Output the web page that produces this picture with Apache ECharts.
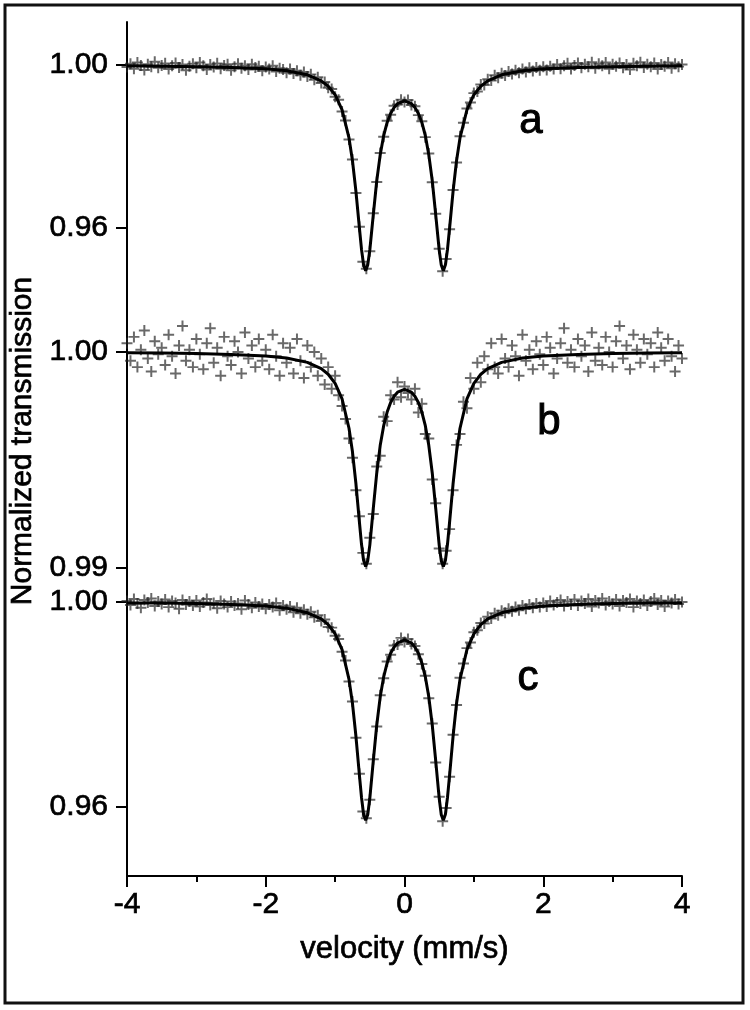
<!DOCTYPE html>
<html>
<head>
<meta charset="utf-8">
<script src="https://cdn.jsdelivr.net/npm/echarts@6/dist/echarts.min.js"></script>
<style>
  html, body { margin: 0; background: #fff; }
  #chart { width: 750px; height: 1010px; }
</style>
</head>
<body>
<div id="chart"></div>
<script>
// measured channels (mm/s)
const velocity = [
  -4, -3.95, -3.9, -3.85, -3.8, -3.75, -3.7, -3.65, -3.6, -3.55,
  -3.5, -3.45, -3.4, -3.35, -3.3, -3.25, -3.2, -3.15, -3.1, -3.05,
  -3, -2.95, -2.9, -2.85, -2.8, -2.75, -2.7, -2.65, -2.6, -2.55,
  -2.5, -2.45, -2.4, -2.35, -2.3, -2.25, -2.2, -2.15, -2.1, -2.05,
  -2, -1.95, -1.9, -1.85, -1.8, -1.75, -1.7, -1.65, -1.6, -1.55,
  -1.5, -1.45, -1.4, -1.35, -1.3, -1.25, -1.2, -1.15, -1.1, -1.05,
  -1, -0.95, -0.9, -0.85, -0.8, -0.75, -0.7, -0.65, -0.6, -0.55,
  -0.5, -0.45, -0.4, -0.35, -0.3, -0.25, -0.2, -0.15, -0.1, -0.05,
  0, 0.05, 0.1, 0.15, 0.2, 0.25, 0.3, 0.35, 0.4, 0.45,
  0.5, 0.55, 0.6, 0.65, 0.7, 0.75, 0.8, 0.85, 0.9, 0.95,
  1, 1.05, 1.1, 1.15, 1.2, 1.25, 1.3, 1.35, 1.4, 1.45,
  1.5, 1.55, 1.6, 1.65, 1.7, 1.75, 1.8, 1.85, 1.9, 1.95,
  2, 2.05, 2.1, 2.15, 2.2, 2.25, 2.3, 2.35, 2.4, 2.45,
  2.5, 2.55, 2.6, 2.65, 2.7, 2.75, 2.8, 2.85, 2.9, 2.95,
  3, 3.05, 3.1, 3.15, 3.2, 3.25, 3.3, 3.35, 3.4, 3.45,
  3.5, 3.55, 3.6, 3.65, 3.7, 3.75, 3.8, 3.85, 3.9, 3.95,
  4
]

const transA = [
  0.9995, 1.0003, 0.9991, 1.0006, 0.9999, 0.9988, 1.0002, 0.9996, 1.0008, 0.9993,
  0.9999, 1.0004, 0.9990, 0.9998, 1.0005, 0.9994, 1.0001, 0.9987, 0.9997, 1.0003,
  0.9993, 1.0006, 0.9998, 0.9989, 1.0001, 0.9995, 1.0004, 0.9991, 0.9999, 1.0002,
  0.9987, 0.9996, 1.0003, 0.9992, 0.9998, 0.9989, 1.0002, 0.9994, 0.9997, 0.9986,
  0.9995, 0.9990, 0.9998, 0.9984, 0.9992, 0.9989, 0.9981, 0.9990, 0.9979, 0.9986,
  0.9975, 0.9983, 0.9972, 0.9977, 0.9964, 0.9970, 0.9956, 0.9958, 0.9944, 0.9941,
  0.9922, 0.9915, 0.9886, 0.9864, 0.9817, 0.9768, 0.9686, 0.9603, 0.9517, 0.9500,
  0.9543, 0.9636, 0.9713, 0.9784, 0.9824, 0.9863, 0.9878, 0.9900, 0.9903, 0.9915,
  0.9909, 0.9914, 0.9902, 0.9899, 0.9877, 0.9862, 0.9823, 0.9783, 0.9712, 0.9635,
  0.9549, 0.9494, 0.9524, 0.9597, 0.9693, 0.9761, 0.9825, 0.9858, 0.9893, 0.9908,
  0.9931, 0.9935, 0.9952, 0.9951, 0.9965, 0.9962, 0.9975, 0.9969, 0.9980, 0.9974,
  0.9984, 0.9978, 0.9987, 0.9981, 0.9990, 0.9983, 0.9993, 0.9985, 0.9994, 0.9987,
  0.9996, 0.9988, 0.9997, 0.9990, 1.0001, 0.9991, 0.9998, 1.0004, 0.9990, 0.9999,
  1.0005, 0.9993, 1.0002, 0.9996, 1.0007, 0.9992, 1.0003, 0.9998, 1.0006, 0.9991,
  1.0002, 0.9997, 1.0005, 0.9993, 1.0001, 0.9989, 1.0004, 0.9998, 1.0007, 0.9994,
  1.0002, 0.9996, 1.0005, 0.9990, 1.0001, 0.9997, 1.0006, 0.9992, 1.0003, 0.9996,
  1.0001
]

const transB = [
  1.0004, 0.9996, 1.0007, 0.9993, 1.0001, 1.0010, 0.9997, 0.9991, 1.0005, 0.9999,
  1.0002, 0.9994, 1.0008, 0.9998, 0.9990, 1.0003, 1.0012, 0.9996, 1.0001, 0.9993,
  1.0006, 0.9999, 0.9992, 1.0004, 1.0011, 0.9995, 1.0002, 0.9989, 1.0007, 0.9998,
  0.9994, 1.0005, 1.0000, 0.9990, 1.0009, 0.9997, 1.0003, 0.9993, 1.0006, 0.9996,
  1.0001, 0.9992, 1.0008, 0.9998, 0.9989, 1.0004, 0.9995, 1.0002, 0.9990, 1.0006,
  0.9996, 0.9988, 1.0003, 0.9993, 1.0000, 0.9989, 0.9997, 0.9985, 0.9993, 0.9983,
  0.9989, 0.9980, 0.9975, 0.9969, 0.9960, 0.9951, 0.9936, 0.9924, 0.9907, 0.9902,
  0.9914, 0.9925, 0.9947, 0.9952, 0.9970, 0.9968, 0.9980, 0.9978, 0.9986, 0.9979,
  0.9984, 0.9981, 0.9978, 0.9983, 0.9972, 0.9976, 0.9962, 0.9960, 0.9941, 0.9930,
  0.9909, 0.9902, 0.9908, 0.9918, 0.9936, 0.9957, 0.9962, 0.9977, 0.9974, 0.9988,
  0.9983, 0.9995, 0.9986, 0.9998, 0.9992, 1.0004, 0.9993, 0.9990, 1.0006, 0.9997,
  0.9993, 1.0003, 0.9998, 0.9989, 1.0008, 0.9996, 1.0001, 0.9992, 1.0005, 0.9999,
  0.9994, 1.0007, 1.0002, 0.9990, 0.9997, 1.0004, 1.0011, 0.9995, 1.0001, 0.9993,
  1.0006, 0.9998, 1.0003, 0.9991, 1.0009, 0.9996, 1.0002, 0.9994, 1.0007, 1.0000,
  0.9993, 1.0005, 1.0012, 0.9997, 1.0003, 0.9992, 1.0008, 1.0001, 0.9995, 1.0006,
  0.9999, 1.0004, 0.9993, 1.0009, 1.0002, 0.9996, 1.0006, 0.9998, 0.9991, 1.0003,
  0.9997
]

const transC = [
  1.0002, 0.9994, 1.0006, 0.9997, 0.9989, 1.0004, 0.9999, 1.0007, 0.9992, 1.0001,
  0.9996, 1.0005, 0.9990, 1.0002, 0.9998, 0.9987, 1.0004, 0.9995, 1.0001, 0.9993,
  1.0003, 0.9991, 0.9999, 1.0006, 0.9994, 0.9998, 0.9988, 1.0002, 0.9996, 0.9990,
  1.0001, 0.9993, 0.9997, 0.9986, 1.0003, 0.9995, 0.9989, 0.9999, 0.9991, 0.9996,
  0.9987, 0.9995, 0.9990, 0.9998, 0.9984, 0.9993, 0.9986, 0.9991, 0.9980, 0.9989,
  0.9978, 0.9985, 0.9976, 0.9981, 0.9970, 0.9974, 0.9963, 0.9966, 0.9951, 0.9950,
  0.9934, 0.9928, 0.9903, 0.9886, 0.9845, 0.9806, 0.9735, 0.9665, 0.9591, 0.9578,
  0.9614, 0.9693, 0.9757, 0.9818, 0.9851, 0.9884, 0.9897, 0.9915, 0.9917, 0.9930,
  0.9922, 0.9928, 0.9918, 0.9914, 0.9898, 0.9879, 0.9856, 0.9812, 0.9763, 0.9687,
  0.9620, 0.9572, 0.9598, 0.9659, 0.9741, 0.9799, 0.9852, 0.9880, 0.9910, 0.9921,
  0.9941, 0.9945, 0.9959, 0.9958, 0.9971, 0.9968, 0.9978, 0.9974, 0.9983, 0.9979,
  0.9987, 0.9982, 0.9990, 0.9984, 0.9993, 0.9987, 0.9995, 0.9989, 0.9997, 0.9990,
  0.9998, 0.9991, 1.0002, 0.9994, 0.9999, 1.0004, 0.9992, 1.0001, 0.9995, 1.0005,
  0.9993, 1.0002, 0.9997, 1.0006, 0.9991, 1.0003, 0.9998, 1.0007, 0.9994, 1.0001,
  0.9996, 1.0005, 0.9992, 1.0003, 0.9999, 1.0006, 0.9990, 1.0002, 0.9997, 1.0004,
  0.9993, 1.0001, 1.0007, 0.9995, 1.0003, 0.9991, 1.0002, 0.9998, 1.0005, 0.9996,
  1.0000
]

// fitted doublets
const fitVelocity = [
  -4, -3.5, -3, -2.5, -2, -1.7, -1.4, -1.2, -1.1, -1,
  -0.9, -0.8, -0.75, -0.7, -0.65, -0.62, -0.59, -0.56, -0.53, -0.5,
  -0.45, -0.4, -0.35, -0.3, -0.25, -0.2, -0.15, -0.1, 0,
  0.1, 0.15, 0.2, 0.25, 0.3, 0.35, 0.4, 0.45, 0.5, 0.53,
  0.56, 0.59, 0.62, 0.65, 0.7, 0.75, 0.8, 0.9, 1, 1.1,
  1.2, 1.4, 1.7, 2, 2.5, 3, 3.5, 4
]
const fitA = [
  0.9998, 0.9997, 0.9996, 0.9994, 0.9991, 0.9986, 0.9976, 0.9961, 0.9948, 0.9927,
  0.9890, 0.9821, 0.9765, 0.9690, 0.9600, 0.9548, 0.9510, 0.9495, 0.9509, 0.9546,
  0.9632, 0.9716, 0.9780, 0.9827, 0.9859, 0.9881, 0.9896, 0.9905, 0.9912,
  0.9905, 0.9896, 0.9881, 0.9859, 0.9827, 0.9780, 0.9716, 0.9632, 0.9546, 0.9509,
  0.9495, 0.9510, 0.9548, 0.9600, 0.9690, 0.9765, 0.9821, 0.9890, 0.9927, 0.9948,
  0.9961, 0.9976, 0.9986, 0.9991, 0.9994, 0.9996, 0.9997, 0.9998
]
const fitB = [
  0.99996, 0.99995, 0.99993, 0.99989, 0.99981, 0.99972, 0.99952, 0.99923, 0.99897, 0.99855,
  0.99783, 0.99647, 0.99538, 0.99390, 0.99213, 0.99111, 0.99036, 0.99007, 0.99033, 0.99106,
  0.99276, 0.99440, 0.99568, 0.99659, 0.99722, 0.99766, 0.99795, 0.99814, 0.99827,
  0.99814, 0.99795, 0.99766, 0.99722, 0.99659, 0.99568, 0.99440, 0.99276, 0.99106, 0.99033,
  0.99007, 0.99036, 0.99111, 0.99213, 0.99390, 0.99538, 0.99647, 0.99783, 0.99855, 0.99897,
  0.99923, 0.99952, 0.99972, 0.99981, 0.99989, 0.99993, 0.99995, 0.99996
]
const fitC = [
  0.9998, 0.9998, 0.9997, 0.9995, 0.9992, 0.9988, 0.9979, 0.9967, 0.9956, 0.9938,
  0.9907, 0.9849, 0.9802, 0.9738, 0.9662, 0.9619, 0.9586, 0.9574, 0.9585, 0.9617,
  0.9690, 0.9760, 0.9815, 0.9854, 0.9881, 0.9900, 0.9912, 0.9920, 0.9926,
  0.9920, 0.9912, 0.9900, 0.9881, 0.9854, 0.9815, 0.9760, 0.9690, 0.9617, 0.9585,
  0.9574, 0.9586, 0.9619, 0.9662, 0.9738, 0.9802, 0.9849, 0.9907, 0.9938, 0.9956,
  0.9967, 0.9979, 0.9988, 0.9992, 0.9995, 0.9997, 0.9998, 0.9998
]

const panelLabels = ['a', 'b', 'c']
const yTickValues = [[0.96, 1.0], [0.99, 1.0], [0.96, 1.0]]

const FONT = '"Liberation Sans", Arial, Helvetica, sans-serif'
const PLUS = 'path://M4.1,0H5.9V4.1H10V5.9H5.9V10H4.1V5.9H0V4.1H4.1Z'
// the scanned figure has heavy type; a thin outline thickens the glyphs
const INK = { textBorderColor: '#000', textBorderWidth: 0.7 }

// pixel layout of the three stacked panels and their y ranges
const panels = [
  { top: 22, height: 283, min: 0.941104, max: 1.010552, label: [531, 121] },
  { top: 305, height: 280, min: 0.989213, max: 1.002176, label: [549, 422] },
  { top: 585, height: 291, min: 0.946537, max: 1.003317, label: [528, 678] },
]

const zip = (xs, ys) => xs.map((x, i) => [x, ys[i]])
const measured = [transA, transB, transC]
const fitted = [fitA, fitB, fitC]

const chart = echarts.init(document.getElementById('chart'), null, { renderer: 'canvas' })

chart.setOption({
  backgroundColor: '#fff',
  animation: false,
  grid: panels.map((p) => ({ left: 127, width: 555, top: p.top, height: p.height })),
  xAxis: panels.map((p, i) => {
    const bottom = i === panels.length - 1
    return {
      type: 'value',
      gridIndex: i,
      min: -4,
      max: 4,
      interval: 2,
      show: bottom,
      position: 'bottom',
      axisLine: { onZero: false, lineStyle: { color: '#000', width: 2 } },
      axisTick: { length: 11, lineStyle: { color: '#000', width: 2 } },
      minorTick: { show: true, splitNumber: 2, length: 6, lineStyle: { color: '#000', width: 2 } },
      axisLabel: { color: '#000', fontSize: 30, fontFamily: FONT, margin: 14, ...INK },
      splitLine: { show: false },
      name: bottom ? 'velocity (mm/s)' : '',
      nameLocation: 'middle',
      nameGap: 58,
      nameTextStyle: { color: '#000', fontSize: 31, fontFamily: FONT, ...INK },
    }
  }),
  yAxis: panels.map((p, i) => ({
    type: 'value',
    gridIndex: i,
    position: 'left',
    min: p.min,
    max: p.max,
    axisLine: { show: true, onZero: false, lineStyle: { color: '#000', width: 2 } },
    axisTick: { show: true, length: 11, customValues: yTickValues[i], lineStyle: { color: '#000', width: 2 } },
    axisLabel: {
      color: '#000', fontSize: 30, fontFamily: FONT, margin: 19, ...INK,
      customValues: yTickValues[i],
      formatter: (v) => v.toFixed(2),
    },
    splitLine: { show: false },
  })),
  graphic: [
    {
      type: 'rect',
      shape: { x: 5, y: 5, width: 738, height: 998 },
      style: { fill: 'none', stroke: '#111', lineWidth: 3 },
      silent: true,
    },
    {
      type: 'text',
      x: 23,
      y: 441,
      rotation: Math.PI / 2,
      style: {
        text: 'Normalized transmission',
        font: `30px ${FONT}`,
        fill: '#000',
        stroke: '#000',
        lineWidth: 0.7,
        align: 'center',
        verticalAlign: 'middle',
      },
    },
    ...panels.map((p, i) => ({
      type: 'text',
      x: p.label[0],
      y: p.label[1],
      style: {
        text: panelLabels[i],
        font: `42px ${FONT}`,
        fill: '#000',
        stroke: '#000',
        lineWidth: 1,
        align: 'center',
        verticalAlign: 'middle',
      },
    })),
  ],
  series: [
    ...measured.map((ys, i) => ({
      type: 'scatter',
      xAxisIndex: i,
      yAxisIndex: i,
      data: zip(velocity, ys),
      symbol: PLUS,
      symbolSize: 11,
      clip: false,
      itemStyle: { color: 'rgba(35,35,35,0.85)' },
      z: 2,
    })),
    ...fitted.map((ys, i) => ({
      type: 'line',
      xAxisIndex: i,
      yAxisIndex: i,
      data: zip(fitVelocity, ys),
      showSymbol: false,
      lineStyle: { color: '#000', width: 3 },
      z: 3,
    })),
  ],
})
</script>
</body>
</html>
